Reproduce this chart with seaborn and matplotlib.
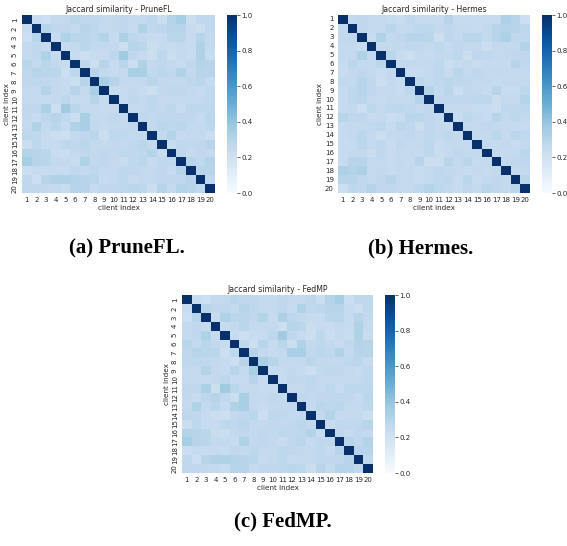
import matplotlib
matplotlib.use("Agg")
import matplotlib.pyplot as plt
import seaborn as sns
import numpy as np

sns.set_style("white")
plt.rcParams['font.family'] = ['DejaVu Sans']

clients = [str(i) for i in range(1, 21)]

# upper triangle of each symmetric similarity matrix, row i holds cols i+1..20
prunefl_upper = [
    [0.24, 0.22, 0.26, 0.26, 0.29, 0.27, 0.27, 0.26, 0.26, 0.27, 0.26, 0.26, 0.28, 0.23, 0.31, 0.35, 0.23, 0.27, 0.27],
    [0.30, 0.27, 0.27, 0.26, 0.30, 0.28, 0.26, 0.26, 0.27, 0.25, 0.32, 0.27, 0.28, 0.30, 0.30, 0.25, 0.22, 0.27],
    [0.25, 0.32, 0.29, 0.29, 0.27, 0.31, 0.25, 0.33, 0.28, 0.26, 0.25, 0.25, 0.29, 0.29, 0.25, 0.30, 0.26],
    [0.25, 0.26, 0.29, 0.26, 0.26, 0.26, 0.22, 0.30, 0.29, 0.23, 0.25, 0.24, 0.26, 0.25, 0.32, 0.26],
    [0.25, 0.22, 0.25, 0.25, 0.28, 0.37, 0.27, 0.25, 0.22, 0.28, 0.23, 0.26, 0.24, 0.32, 0.24],
    [0.28, 0.22, 0.30, 0.25, 0.29, 0.23, 0.32, 0.26, 0.27, 0.26, 0.24, 0.27, 0.31, 0.30],
    [0.30, 0.26, 0.25, 0.26, 0.34, 0.34, 0.27, 0.29, 0.27, 0.32, 0.26, 0.30, 0.30],
    [0.34, 0.30, 0.26, 0.26, 0.26, 0.29, 0.26, 0.26, 0.26, 0.28, 0.29, 0.25],
    [0.25, 0.25, 0.26, 0.25, 0.22, 0.26, 0.27, 0.27, 0.26, 0.25, 0.27],
    [0.25, 0.27, 0.26, 0.28, 0.26, 0.26, 0.26, 0.26, 0.26, 0.27],
    [0.26, 0.26, 0.27, 0.26, 0.28, 0.24, 0.28, 0.28, 0.28],
    [0.27, 0.26, 0.27, 0.27, 0.27, 0.27, 0.25, 0.29],
    [0.26, 0.29, 0.28, 0.29, 0.26, 0.26, 0.28],
    [0.26, 0.31, 0.25, 0.26, 0.26, 0.23],
    [0.24, 0.27, 0.27, 0.27, 0.30],
    [0.27, 0.25, 0.27, 0.26],
    [0.30, 0.27, 0.31],
    [0.30, 0.30],
    [0.27],
]

hermes_upper = [
    [0.26, 0.27, 0.26, 0.26, 0.25, 0.24, 0.27, 0.25, 0.25, 0.25, 0.30, 0.25, 0.25, 0.25, 0.25, 0.25, 0.33, 0.30, 0.22],
    [0.27, 0.26, 0.26, 0.29, 0.26, 0.26, 0.28, 0.28, 0.26, 0.27, 0.26, 0.26, 0.25, 0.26, 0.30, 0.31, 0.30, 0.28],
    [0.24, 0.32, 0.26, 0.27, 0.30, 0.30, 0.29, 0.22, 0.28, 0.26, 0.29, 0.29, 0.26, 0.30, 0.33, 0.27, 0.27],
    [0.26, 0.26, 0.26, 0.27, 0.27, 0.26, 0.28, 0.25, 0.27, 0.26, 0.26, 0.23, 0.26, 0.26, 0.26, 0.31],
    [0.29, 0.24, 0.22, 0.26, 0.25, 0.26, 0.26, 0.28, 0.23, 0.27, 0.27, 0.26, 0.26, 0.27, 0.27],
    [0.26, 0.26, 0.26, 0.26, 0.28, 0.23, 0.25, 0.26, 0.24, 0.25, 0.25, 0.25, 0.30, 0.27],
    [0.24, 0.24, 0.26, 0.28, 0.24, 0.29, 0.26, 0.27, 0.26, 0.26, 0.26, 0.26, 0.26],
    [0.28, 0.26, 0.27, 0.29, 0.27, 0.27, 0.26, 0.26, 0.25, 0.26, 0.26, 0.26],
    [0.31, 0.26, 0.29, 0.23, 0.26, 0.26, 0.25, 0.30, 0.24, 0.24, 0.28],
    [0.27, 0.27, 0.27, 0.27, 0.28, 0.28, 0.23, 0.26, 0.26, 0.31],
    [0.26, 0.26, 0.26, 0.24, 0.24, 0.23, 0.27, 0.27, 0.28],
    [0.25, 0.28, 0.26, 0.25, 0.30, 0.26, 0.28, 0.26],
    [0.26, 0.26, 0.27, 0.26, 0.26, 0.25, 0.25],
    [0.26, 0.26, 0.29, 0.25, 0.29, 0.27],
    [0.26, 0.25, 0.26, 0.24, 0.26],
    [0.26, 0.25, 0.26, 0.29],
    [0.26, 0.27, 0.27],
    [0.26, 0.26],
    [0.29],
]

# FedMP map reads the same as PruneFL in the figure
fedmp_upper = [list(r) for r in prunefl_upper]


def build_matrix(upper):
    n = len(upper) + 1
    m = np.eye(n)
    for i, row in enumerate(upper):
        for k, v in enumerate(row):
            j = i + 1 + k
            m[i, j] = v
            m[j, i] = v
    return m


W, H = 567, 546


def box(x0, y0, x1, y1):
    return [x0 / W, 1 - y1 / H, (x1 - x0) / W, (y1 - y0) / H]


fig = plt.figure(figsize=(W / 100, H / 100), dpi=100)

panels = [
    (prunefl_upper, "PruneFL", (22, 15, 215, 193), (227, 15, 237, 193), 90),
    (hermes_upper, "Hermes", (338, 15, 530, 193), (542, 15, 552, 193), 0),
    (fedmp_upper, "FedMP", (182, 295, 373, 473), (385, 295, 395, 473), 90),
]

for upper, name, hbox, cbox, yrot in panels:
    ax = fig.add_axes(box(*hbox))
    cax = fig.add_axes(box(*cbox))
    mat = build_matrix(upper)
    sns.heatmap(mat, cmap="Blues", vmin=0, vmax=1, ax=ax, cbar_ax=cax,
                xticklabels=clients, yticklabels=clients)
    ax.set_title(f"Jaccard similarity - {name}", fontsize=5.6, pad=2)
    ax.set_xlabel("client index", fontsize=5.2, labelpad=1)
    ax.set_ylabel("client index", fontsize=5.2, labelpad=1)
    ax.tick_params(axis="both", labelsize=5, length=2, width=0.5, pad=1)
    plt.setp(ax.get_yticklabels(), rotation=yrot, va="center")
    plt.setp(ax.get_xticklabels(), rotation=0)
    cax.tick_params(labelsize=5, length=2, width=0.5, pad=1)
    cax.set_yticks([0, 0.2, 0.4, 0.6, 0.8, 1.0])

cap = dict(fontsize=15, fontweight="bold", family=["Liberation Serif"], color="black",
           ha="center", va="center")
fig.text(127 / W, 1 - 248 / H, "(a) PruneFL.", **cap)
fig.text(421 / W, 1 - 248 / H, "(b) Hermes.", **cap)
fig.text(283 / W, 1 - 521 / H, "(c) FedMP.", **cap)

fig.savefig("out.png", dpi=100)
